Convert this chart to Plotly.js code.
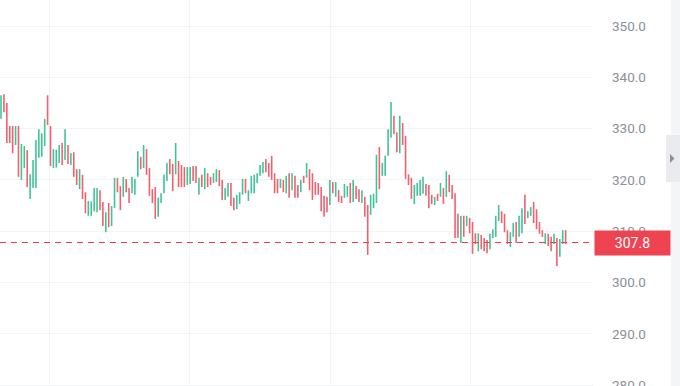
<!DOCTYPE html>
<html>
<head>
<meta charset="utf-8">
<script src="https://cdn.plot.ly/plotly-3.0.1.min.js"></script>
<style>html,body{margin:0;padding:0;background:#fff;overflow:hidden;}#wrap{width:680px;height:386px;overflow:hidden;}#chart{width:680px;height:400px;}</style>
</head>
<body>
<div id="wrap"><div id="chart"></div></div>
<script>
// Bar values (index = bar number, left to right)
const opens = [
331.9,336.7,335.0,330.5,330.5,326.8,330.5,320.0,322.3,325.8,
316.3,318.4,318.4,324.3,324.5,326.6,336.5,330.5,322.3,322.4,
323.3,327.2,323.9,326.8,322.9,325.4,322.1,318.2,321.0,317.6,
313.0,313.0,313.9,313.7,318.0,315.7,309.8,315.5,311.0,314.5,
320.4,318.8,316.7,320.2,318.4,317.4,317.1,320.6,324.5,322.3,
326.0,322.3,318.2,318.6,312.8,315.5,317.4,319.8,324.1,323.1,
321.1,323.7,322.9,322.5,319.0,319.2,322.7,322.7,317.1,321.0,
318.2,321.3,320.6,319.4,319.6,321.9,320.0,316.1,316.7,319.4,
316.5,314.3,315.3,317.1,320.2,315.9,317.4,317.4,319.4,320.8,
321.3,324.1,323.3,324.7,321.3,320.2,318.4,320.0,317.4,321.3,
318.0,320.8,319.0,317.6,320.8,320.4,322.1,321.3,319.6,319.4,
318.6,316.9,316.7,315.1,319.6,316.7,318.0,316.9,316.5,316.7,
319.4,315.7,318.8,318.2,315.5,316.7,315.1,313.2,314.5,315.5,
326.4,320.8,320.8,324.7,328.2,332.5,329.3,325.2,331.1,328.6,
321.1,320.4,315.3,316.9,316.9,317.3,319.2,319.0,317.1,315.1,
317.3,316.7,318.4,316.7,321.0,319.0,317.4,313.4,307.7,313.0,
311.0,312.6,311.8,309.6,306.1,309.3,308.7,308.3,306.5,308.7,
308.9,312.0,313.9,313.4,310.2,306.9,308.9,311.8,308.9,309.6,
317.1,312.6,313.0,315.7,314.3,311.8,310.2,307.5,309.5,308.9,
307.5,308.7,305.0,307.5,310.2];
const highs = [
336.5,336.7,335.0,330.5,330.5,330.5,330.5,327.0,326.6,325.8,
321.1,323.9,327.8,329.9,329.1,331.9,336.5,330.5,326.0,325.9,
326.8,327.2,329.9,326.8,325.2,325.4,322.1,322.1,321.0,317.6,
315.9,315.8,318.4,318.4,318.0,315.7,313.7,315.5,314.9,320.4,
320.4,318.8,320.6,320.2,318.4,320.6,320.2,325.6,324.5,326.8,
326.0,322.3,318.2,318.6,316.5,317.4,321.0,323.3,324.1,323.1,
327.2,323.7,322.9,322.5,322.5,322.5,322.7,322.7,320.4,321.0,
322.3,321.3,320.6,321.3,322.1,321.9,320.0,318.4,319.4,319.4,
316.5,317.1,317.6,320.2,320.2,318.0,320.8,321.0,321.3,322.9,
323.5,324.1,323.3,324.7,321.3,320.2,320.2,320.0,320.8,321.3,
321.3,320.8,319.0,320.0,320.8,323.3,322.1,321.3,319.6,319.4,
318.6,316.9,316.7,320.0,319.6,319.6,318.0,316.9,319.2,318.8,
319.4,320.0,318.8,318.2,318.0,316.7,315.1,317.1,317.3,324.9,
326.4,323.3,324.7,329.9,335.2,332.5,329.3,332.5,331.1,328.6,
321.1,320.4,319.0,319.4,320.0,320.6,319.2,319.0,317.1,316.7,
317.3,319.4,318.4,321.7,321.0,319.0,317.4,313.4,313.0,313.0,
313.0,312.6,311.8,309.6,309.6,309.3,308.7,308.3,309.5,310.4,
313.0,315.1,313.9,313.4,310.2,309.8,311.6,311.8,313.0,314.5,
317.1,313.9,314.7,315.7,314.3,311.8,310.2,309.6,309.5,308.9,
309.5,308.7,308.5,310.2,310.2];
const lows = [
331.9,333.2,327.2,327.2,325.2,326.8,320.6,320.0,322.3,318.6,
316.3,318.4,318.4,324.3,324.5,326.6,330.7,322.7,322.3,322.4,
323.3,322.9,323.9,323.1,322.9,320.6,319.0,318.2,316.3,313.5,
313.0,313.0,313.9,313.7,314.1,311.0,309.8,310.8,311.0,314.5,
317.6,314.1,316.7,317.6,315.5,317.4,317.1,320.6,322.1,322.3,
321.0,316.9,315.5,312.4,312.8,315.5,317.4,319.8,321.1,317.8,
321.1,318.6,318.6,318.6,319.0,319.2,319.8,319.4,317.1,318.6,
318.2,318.6,319.0,319.4,319.6,318.8,316.1,316.1,316.7,314.9,
314.1,314.3,315.3,317.1,317.4,315.9,317.4,317.4,319.4,320.8,
321.3,321.5,320.6,320.0,317.4,317.4,318.4,317.6,317.4,316.5,
318.0,316.5,316.5,317.6,319.4,320.4,318.0,316.1,317.1,317.1,
313.9,312.8,313.7,315.1,317.4,316.7,315.7,315.5,316.5,316.7,
315.5,315.7,316.3,315.7,315.5,312.8,305.4,313.2,314.5,315.5,
318.2,320.8,320.8,324.7,328.2,328.9,325.4,325.2,326.8,320.2,
319.0,316.3,315.3,316.9,316.9,317.3,316.9,314.5,315.3,315.1,
315.9,316.7,315.3,316.7,317.6,316.3,308.7,308.7,307.7,308.9,
311.0,309.6,305.6,307.5,306.1,306.5,306.1,305.7,306.5,308.7,
308.9,312.0,311.6,309.8,307.5,306.9,308.9,307.7,308.9,309.6,
311.4,312.6,313.0,311.6,310.4,309.5,308.9,307.5,307.1,306.1,
307.5,303.2,305.0,307.5,307.5];
const closes = [
336.5,333.2,327.2,327.2,325.2,330.5,320.6,327.0,326.6,318.6,
321.1,323.9,327.8,329.9,329.1,331.9,330.7,322.7,326.0,325.9,
326.8,322.9,329.9,323.1,325.2,320.6,319.0,322.1,316.3,313.5,
315.9,315.8,318.4,318.4,314.1,311.0,313.7,310.8,314.9,320.4,
317.6,314.1,320.6,317.6,315.5,320.6,320.2,325.6,322.1,326.8,
321.0,316.9,315.5,312.4,316.5,317.4,321.0,323.3,321.1,317.8,
327.2,318.6,318.6,318.6,322.5,322.5,319.8,319.4,320.4,318.6,
322.3,318.6,319.0,321.3,322.1,318.8,316.1,318.4,319.4,314.9,
314.1,317.1,317.6,320.2,317.4,318.0,320.8,321.0,321.3,322.9,
323.5,321.5,320.6,320.0,317.4,317.4,320.2,317.6,320.8,316.5,
321.3,316.5,316.5,320.0,319.4,323.3,318.0,316.1,317.1,317.1,
313.9,312.8,313.7,320.0,317.4,319.6,315.7,315.5,319.2,318.8,
315.5,320.0,316.3,315.7,318.0,312.8,305.4,317.1,317.3,324.9,
318.2,323.3,324.7,329.9,335.2,328.9,325.4,332.5,326.8,320.2,
319.0,316.3,319.0,319.4,320.0,320.6,316.9,314.5,315.3,316.7,
315.9,319.4,315.3,321.7,317.6,316.3,308.7,308.7,313.0,308.9,
313.0,309.6,305.6,307.5,309.6,306.5,306.1,305.7,309.5,310.4,
313.0,315.1,311.6,309.8,307.5,309.8,311.6,307.7,313.0,314.5,
311.4,313.9,314.7,311.6,310.4,309.5,308.9,309.6,307.1,306.1,
309.5,303.2,308.5,310.2,307.8];
const yTicks = [270, 280, 290, 300, 310, 320, 330, 340, 350];
const lastPrice = 307.8;
const lastPriceLabel = "307.8";

const barIndex = opens.map((_, i) => i);

// The figure is drawn 400px tall inside a 386px window so the bottom label is cut like the reference
const W = 680, H = 400;
const M = {l: 0, r: 87, t: 0, b: 0};
const plotW = W - M.l - M.r;
const px = v => (v - M.l) / plotW;       // pixel x -> paper x
const py = v => 1 - (v - M.t) / (H - M.t - M.b); // pixel y -> paper y

const red = '#f0606f';
const green = '#3ec497';

const trace = {
  type: 'ohlc',
  x: barIndex,
  open: opens, high: highs, low: lows, close: closes,
  increasing: {line: {color: green, width: 1.6}},
  decreasing: {line: {color: red, width: 1.6}},
  tickwidth: 0,
  hoverinfo: 'skip'
};

const layout = {
  width: W, height: H,
  margin: M,
  paper_bgcolor: '#ffffff',
  plot_bgcolor: '#ffffff',
  showlegend: false,
  font: {family: 'Roboto, "Noto Sans", sans-serif', size: 13, color: '#8b909a'},
  xaxis: {
    range: [-0.35, 203.4],
    rangeslider: {visible: false},
    showticklabels: false,
    tickmode: 'linear', tick0: 16.5, dtick: 48.3,
    showgrid: true, gridcolor: '#f3f4f6', gridwidth: 1,
    zeroline: false, showline: false, ticks: '',
    fixedrange: true
  },
  yaxis: {
    side: 'right',
    range: [277.1, 355.07],
    tickmode: 'array', tickvals: yTicks,
    tickformat: '.1f',
    showgrid: true, gridcolor: '#f3f4f6', gridwidth: 1,
    zeroline: false, showline: false, ticks: '',
    ticklabelstandoff: 18,
    tickfont: {family: 'Roboto, "Noto Sans", sans-serif', size: 13.5, color: '#8b909a'},
    fixedrange: true
  },
  shapes: [
    {type: 'line', xref: 'paper', yref: 'y', x0: 0, x1: 1, y0: lastPrice, y1: lastPrice,
     line: {color: '#e8424f', width: 1, dash: '6px,5px'}},
    {type: 'rect', xref: 'paper', yref: 'paper', x0: px(671), x1: px(681), y0: 0, y1: 1,
     fillcolor: '#f4f5f7', line: {width: 0}, layer: 'above'},
    {type: 'rect', xref: 'paper', yref: 'paper', x0: px(666), x1: px(681), y0: py(182), y1: py(135),
     fillcolor: '#e9ebee', line: {width: 0}, layer: 'above'},
    {type: 'path', xref: 'paper', yref: 'paper',
     path: 'M ' + px(670) + ' ' + py(154) + ' L ' + px(674.5) + ' ' + py(158.5) + ' L ' + px(670) + ' ' + py(163) + ' Z',
     fillcolor: '#8e9196', line: {width: 0}, layer: 'above'}
  ],
  annotations: [
    {xref: 'paper', yref: 'y', x: px(594), y: lastPrice, xanchor: 'left', yanchor: 'middle',
     text: lastPriceLabel, showarrow: false, align: 'center',
     width: 75, height: 24, borderpad: 0, bgcolor: '#ee4452',
     font: {family: 'Roboto, "Noto Sans", sans-serif', size: 14, color: '#ffffff'}}
  ]
};

Plotly.newPlot('chart', [trace], layout, {displayModeBar: false, staticPlot: true});
</script>
</body>
</html>
